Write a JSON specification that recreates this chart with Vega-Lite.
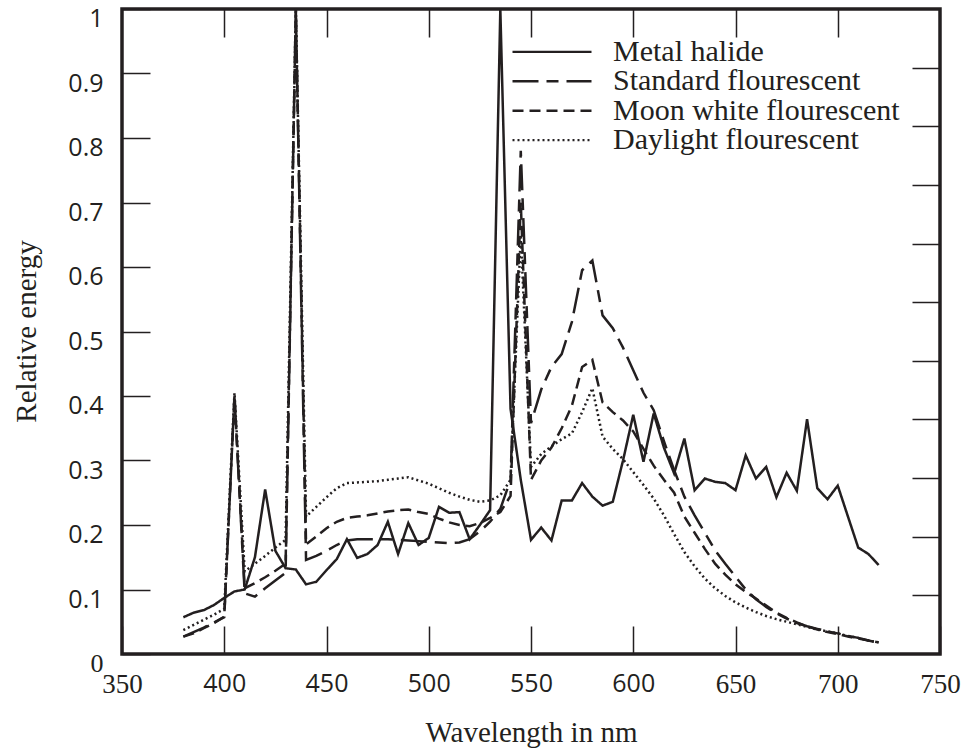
{
  "$schema": "https://vega.github.io/schema/vega-lite/v6.json",
  "width": 818,
  "height": 645,
  "autosize": {"type": "none"},
  "padding": {"left": 122, "top": 9, "right": 27, "bottom": 96},
  "background": "white",
  "config": {
    "view": {"stroke": "#231f20", "strokeWidth": 3.5},
    "axis": {
      "domain": false,
      "grid": false,
      "tickColor": "#231f20",
      "tickWidth": 1.5,
      "tickSize": -28,
      "labelColor": "#231f20",
      "labelFlush": false,
      "labelOverlap": false,
      "labelBound": false,
      "titleColor": "#231f20"
    }
  },
  "data": {
    "values": [
      {"nm": 380, "Metal halide": 0.057, "Standard flourescent": 0.027, "Moon white flourescent": 0.027, "Daylight flourescent": 0.037},
      {"nm": 385, "Metal halide": 0.064, "Standard flourescent": 0.034, "Moon white flourescent": 0.032, "Daylight flourescent": 0.045},
      {"nm": 390, "Metal halide": 0.068, "Standard flourescent": 0.041, "Moon white flourescent": 0.040, "Daylight flourescent": 0.053},
      {"nm": 395, "Metal halide": 0.076, "Standard flourescent": 0.049, "Moon white flourescent": 0.048, "Daylight flourescent": 0.061},
      {"nm": 400, "Metal halide": 0.087, "Standard flourescent": 0.057, "Moon white flourescent": 0.058, "Daylight flourescent": 0.070},
      {"nm": 405, "Metal halide": 0.097, "Standard flourescent": 0.400, "Moon white flourescent": 0.400, "Daylight flourescent": 0.405},
      {"nm": 410, "Metal halide": 0.100, "Standard flourescent": 0.094, "Moon white flourescent": 0.102, "Daylight flourescent": 0.128},
      {"nm": 415, "Metal halide": 0.150, "Standard flourescent": 0.089, "Moon white flourescent": 0.110, "Daylight flourescent": 0.140},
      {"nm": 420, "Metal halide": 0.255, "Standard flourescent": 0.102, "Moon white flourescent": 0.119, "Daylight flourescent": 0.152},
      {"nm": 425, "Metal halide": 0.160, "Standard flourescent": 0.114, "Moon white flourescent": 0.129, "Daylight flourescent": 0.165},
      {"nm": 430, "Metal halide": 0.133, "Standard flourescent": 0.126, "Moon white flourescent": 0.140, "Daylight flourescent": 0.177},
      {"nm": 435, "Metal halide": 0.131, "Standard flourescent": 1.000, "Moon white flourescent": 1.000, "Daylight flourescent": 1.000},
      {"nm": 440, "Metal halide": 0.108, "Standard flourescent": 0.146, "Moon white flourescent": 0.170, "Daylight flourescent": 0.213},
      {"nm": 445, "Metal halide": 0.112, "Standard flourescent": 0.152, "Moon white flourescent": 0.182, "Daylight flourescent": 0.228},
      {"nm": 450, "Metal halide": 0.130, "Standard flourescent": 0.160, "Moon white flourescent": 0.195, "Daylight flourescent": 0.243},
      {"nm": 455, "Metal halide": 0.147, "Standard flourescent": 0.169, "Moon white flourescent": 0.205, "Daylight flourescent": 0.257},
      {"nm": 460, "Metal halide": 0.178, "Standard flourescent": 0.176, "Moon white flourescent": 0.211, "Daylight flourescent": 0.265},
      {"nm": 465, "Metal halide": 0.149, "Standard flourescent": 0.178, "Moon white flourescent": 0.213, "Daylight flourescent": 0.266},
      {"nm": 470, "Metal halide": 0.155, "Standard flourescent": 0.178, "Moon white flourescent": 0.215, "Daylight flourescent": 0.267},
      {"nm": 475, "Metal halide": 0.169, "Standard flourescent": 0.178, "Moon white flourescent": 0.218, "Daylight flourescent": 0.268},
      {"nm": 480, "Metal halide": 0.205, "Standard flourescent": 0.178, "Moon white flourescent": 0.221, "Daylight flourescent": 0.270},
      {"nm": 485, "Metal halide": 0.155, "Standard flourescent": 0.177, "Moon white flourescent": 0.223, "Daylight flourescent": 0.272},
      {"nm": 490, "Metal halide": 0.203, "Standard flourescent": 0.176, "Moon white flourescent": 0.224, "Daylight flourescent": 0.274},
      {"nm": 495, "Metal halide": 0.169, "Standard flourescent": 0.175, "Moon white flourescent": 0.220, "Daylight flourescent": 0.269},
      {"nm": 500, "Metal halide": 0.180, "Standard flourescent": 0.174, "Moon white flourescent": 0.217, "Daylight flourescent": 0.264},
      {"nm": 505, "Metal halide": 0.228, "Standard flourescent": 0.173, "Moon white flourescent": 0.210, "Daylight flourescent": 0.257},
      {"nm": 510, "Metal halide": 0.219, "Standard flourescent": 0.172, "Moon white flourescent": 0.204, "Daylight flourescent": 0.250},
      {"nm": 515, "Metal halide": 0.220, "Standard flourescent": 0.173, "Moon white flourescent": 0.200, "Daylight flourescent": 0.244},
      {"nm": 520, "Metal halide": 0.178, "Standard flourescent": 0.178, "Moon white flourescent": 0.198, "Daylight flourescent": 0.239},
      {"nm": 525, "Metal halide": 0.200, "Standard flourescent": 0.190, "Moon white flourescent": 0.203, "Daylight flourescent": 0.236},
      {"nm": 530, "Metal halide": 0.223, "Standard flourescent": 0.205, "Moon white flourescent": 0.211, "Daylight flourescent": 0.238},
      {"nm": 535, "Metal halide": 1.000, "Standard flourescent": 0.225, "Moon white flourescent": 0.220, "Daylight flourescent": 0.246},
      {"nm": 540, "Metal halide": 0.380, "Standard flourescent": 0.270, "Moon white flourescent": 0.245, "Daylight flourescent": 0.270},
      {"nm": 545, "Metal halide": 0.270, "Standard flourescent": 0.780, "Moon white flourescent": 0.700, "Daylight flourescent": 0.650},
      {"nm": 550, "Metal halide": 0.177, "Standard flourescent": 0.358, "Moon white flourescent": 0.270, "Daylight flourescent": 0.290},
      {"nm": 555, "Metal halide": 0.196, "Standard flourescent": 0.410, "Moon white flourescent": 0.300, "Daylight flourescent": 0.310},
      {"nm": 560, "Metal halide": 0.176, "Standard flourescent": 0.445, "Moon white flourescent": 0.320, "Daylight flourescent": 0.322},
      {"nm": 565, "Metal halide": 0.238, "Standard flourescent": 0.465, "Moon white flourescent": 0.350, "Daylight flourescent": 0.333},
      {"nm": 570, "Metal halide": 0.238, "Standard flourescent": 0.515, "Moon white flourescent": 0.385, "Daylight flourescent": 0.342},
      {"nm": 575, "Metal halide": 0.265, "Standard flourescent": 0.595, "Moon white flourescent": 0.445, "Daylight flourescent": 0.375},
      {"nm": 580, "Metal halide": 0.244, "Standard flourescent": 0.610, "Moon white flourescent": 0.456, "Daylight flourescent": 0.412},
      {"nm": 585, "Metal halide": 0.230, "Standard flourescent": 0.525, "Moon white flourescent": 0.390, "Daylight flourescent": 0.337},
      {"nm": 590, "Metal halide": 0.236, "Standard flourescent": 0.505, "Moon white flourescent": 0.375, "Daylight flourescent": 0.318},
      {"nm": 595, "Metal halide": 0.300, "Standard flourescent": 0.475, "Moon white flourescent": 0.362, "Daylight flourescent": 0.302},
      {"nm": 600, "Metal halide": 0.371, "Standard flourescent": 0.440, "Moon white flourescent": 0.345, "Daylight flourescent": 0.282},
      {"nm": 605, "Metal halide": 0.298, "Standard flourescent": 0.405, "Moon white flourescent": 0.318, "Daylight flourescent": 0.262},
      {"nm": 610, "Metal halide": 0.373, "Standard flourescent": 0.378, "Moon white flourescent": 0.292, "Daylight flourescent": 0.241},
      {"nm": 615, "Metal halide": 0.320, "Standard flourescent": 0.330, "Moon white flourescent": 0.270, "Daylight flourescent": 0.215},
      {"nm": 620, "Metal halide": 0.280, "Standard flourescent": 0.285, "Moon white flourescent": 0.250, "Daylight flourescent": 0.186},
      {"nm": 625, "Metal halide": 0.334, "Standard flourescent": 0.244, "Moon white flourescent": 0.213, "Daylight flourescent": 0.158},
      {"nm": 630, "Metal halide": 0.254, "Standard flourescent": 0.215, "Moon white flourescent": 0.188, "Daylight flourescent": 0.136},
      {"nm": 635, "Metal halide": 0.272, "Standard flourescent": 0.188, "Moon white flourescent": 0.163, "Daylight flourescent": 0.117},
      {"nm": 640, "Metal halide": 0.267, "Standard flourescent": 0.161, "Moon white flourescent": 0.140, "Daylight flourescent": 0.102},
      {"nm": 645, "Metal halide": 0.265, "Standard flourescent": 0.140, "Moon white flourescent": 0.123, "Daylight flourescent": 0.090},
      {"nm": 650, "Metal halide": 0.254, "Standard flourescent": 0.120, "Moon white flourescent": 0.108, "Daylight flourescent": 0.080},
      {"nm": 655, "Metal halide": 0.308, "Standard flourescent": 0.100, "Moon white flourescent": 0.096, "Daylight flourescent": 0.072},
      {"nm": 660, "Metal halide": 0.272, "Standard flourescent": 0.085, "Moon white flourescent": 0.086, "Daylight flourescent": 0.065},
      {"nm": 665, "Metal halide": 0.290, "Standard flourescent": 0.073, "Moon white flourescent": 0.075, "Daylight flourescent": 0.059},
      {"nm": 670, "Metal halide": 0.243, "Standard flourescent": 0.063, "Moon white flourescent": 0.064, "Daylight flourescent": 0.054},
      {"nm": 675, "Metal halide": 0.281, "Standard flourescent": 0.055, "Moon white flourescent": 0.056, "Daylight flourescent": 0.050},
      {"nm": 680, "Metal halide": 0.253, "Standard flourescent": 0.048, "Moon white flourescent": 0.049, "Daylight flourescent": 0.046},
      {"nm": 685, "Metal halide": 0.364, "Standard flourescent": 0.043, "Moon white flourescent": 0.043, "Daylight flourescent": 0.042},
      {"nm": 690, "Metal halide": 0.257, "Standard flourescent": 0.039, "Moon white flourescent": 0.038, "Daylight flourescent": 0.038},
      {"nm": 695, "Metal halide": 0.240, "Standard flourescent": 0.035, "Moon white flourescent": 0.034, "Daylight flourescent": 0.035},
      {"nm": 700, "Metal halide": 0.261, "Standard flourescent": 0.032, "Moon white flourescent": 0.031, "Daylight flourescent": 0.032},
      {"nm": 705, "Metal halide": 0.213, "Standard flourescent": 0.028, "Moon white flourescent": 0.027, "Daylight flourescent": 0.028},
      {"nm": 710, "Metal halide": 0.165, "Standard flourescent": 0.025, "Moon white flourescent": 0.024, "Daylight flourescent": 0.025},
      {"nm": 715, "Metal halide": 0.155, "Standard flourescent": 0.021, "Moon white flourescent": 0.021, "Daylight flourescent": 0.021},
      {"nm": 720, "Metal halide": 0.138, "Standard flourescent": 0.017, "Moon white flourescent": 0.018, "Daylight flourescent": 0.018}
    ]
  },
  "transform": [
    {"fold": ["Metal halide", "Standard flourescent", "Moon white flourescent", "Daylight flourescent"], "as": ["lamp", "energy"]}
  ],
  "layer": [
    {
      "mark": {"type": "line", "color": "#231f20", "strokeWidth": 2.5, "strokeJoin": "miter", "strokeMiterLimit": 4},
      "encoding": {
        "x": {
          "field": "nm", "type": "quantitative",
          "scale": {"domain": [350, 750], "nice": false, "zero": false},
          "axis": {
            "orient": "bottom",
            "values": [350, 400, 450, 500, 550, 600, 650, 700, 750],
            "format": "d",
            "labelPadding": 45,
            "labelBaseline": "top",
            "labelFont": {"condition": {"test": "datum.value == 350 || datum.value >= 650", "value": "Liberation Serif"}, "value": "Open Sans"},
            "labelFontSize": {"condition": {"test": "datum.value == 350 || datum.value >= 650", "value": 27}, "value": 25},
            "title": "Wavelength in nm",
            "titleFont": "Liberation Serif",
            "titleFontSize": 29,
            "titleFontWeight": "normal",
            "titleY": 87,
            "titleBaseline": "alphabetic"
          }
        },
        "y": {
          "field": "energy", "type": "quantitative",
          "scale": {"domain": [0, 1], "nice": false, "zero": false},
          "axis": {
            "orient": "left",
            "values": [0, 0.1, 0.2, 0.3, 0.4, 0.5, 0.6, 0.7, 0.8, 0.9, 1],
            "format": "~g",
            "labelPadding": 47,
            "labelOffset": 9.5,
            "labelFont": {"condition": {"test": "datum.value == 0", "value": "Liberation Serif"}, "value": "Open Sans"},
            "labelFontSize": {"condition": {"test": "datum.value == 0", "value": 26}, "value": 25},
            "title": "Relative energy",
            "titleFont": "Liberation Serif",
            "titleFontSize": 29,
            "titleFontWeight": "normal",
            "titleAngle": 270,
            "titleX": -96,
            "titleY": 322,
            "titleAlign": "center",
            "titleBaseline": "middle"
          }
        },
        "strokeDash": {
          "field": "lamp", "type": "nominal",
          "scale": {
            "domain": ["Metal halide", "Standard flourescent", "Moon white flourescent", "Daylight flourescent"],
            "range": [[1, 0], [26, 8, 12, 8], [11, 6], [2, 3]]
          },
          "legend": {
            "orient": "none",
            "legendX": 389,
            "legendY": 29,
            "title": null,
            "padding": 0,
            "rowPadding": -1.6,
            "clipHeight": 27.8,
            "symbolType": "stroke",
            "symbolSize": 6241,
            "symbolStrokeColor": "#231f20",
            "symbolStrokeWidth": 2.4,
            "labelOffset": 20,
            "labelFont": "Liberation Serif",
            "labelFontSize": 30,
            "labelColor": "#231f20",
            "labelLimit": 0
          }
        }
      }
    },
    {
      "mark": {"type": "line", "opacity": 0},
      "encoding": {
        "x": {
          "field": "nm", "type": "quantitative",
          "scale": {"domain": [350, 750], "nice": false, "zero": false},
          "axis": {"orient": "top", "values": [400, 450, 500, 550, 600, 650, 700], "labels": false, "title": null}
        },
        "y": {
          "field": "energy", "type": "quantitative",
          "scale": {"domain": [0, 1], "nice": false, "zero": false},
          "axis": {"orient": "right", "values": [0.090909, 0.181818, 0.272727, 0.363636, 0.454545, 0.545455, 0.636364, 0.727273, 0.818182, 0.909091], "labels": false, "title": null}
        },
        "detail": {"field": "lamp", "type": "nominal"}
      }
    }
  ],
  "resolve": {"scale": {"x": "independent", "y": "independent"}}
}
